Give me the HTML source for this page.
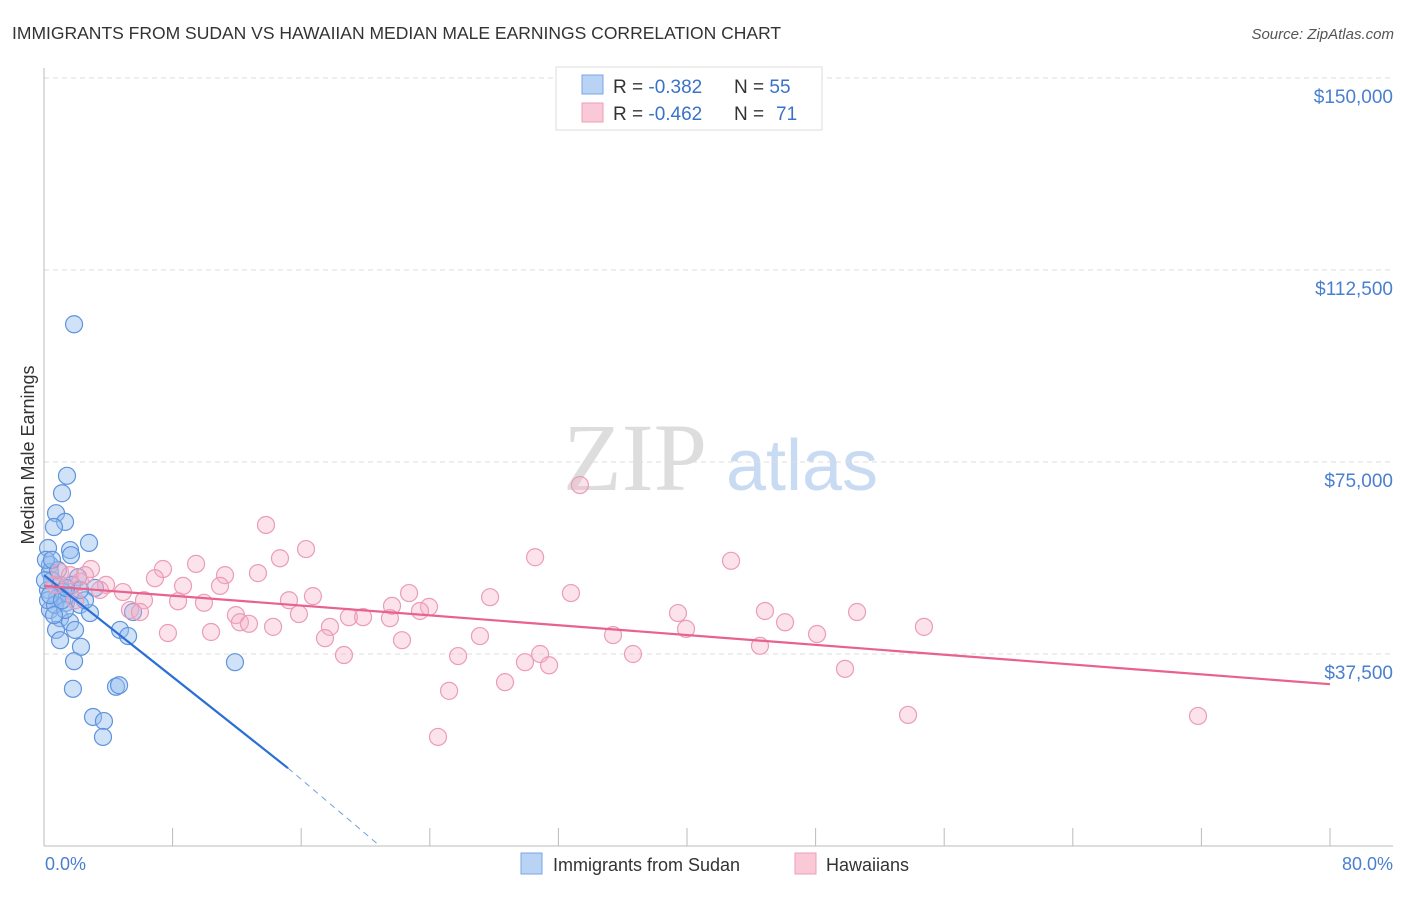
<!DOCTYPE html>
<html><head><meta charset="utf-8"><style>
body{margin:0;background:#fff;font-family:"Liberation Sans",sans-serif}
svg text{font-family:"Liberation Sans",sans-serif}
</style></head><body>
<svg width="1406" height="892" id="chart" xmlns="http://www.w3.org/2000/svg">
<text x="12" y="39" font-size="17.5" fill="#333">IMMIGRANTS FROM SUDAN VS HAWAIIAN MEDIAN MALE EARNINGS CORRELATION CHART</text>
<text x="1394" y="39" font-size="15" fill="#555" text-anchor="end" font-style="italic">Source: ZipAtlas.com</text>
<g>
<text x="635" y="490" font-size="96" fill="#ddd" text-anchor="middle" font-family="Liberation Serif,serif" style="font-family:'Liberation Serif',serif">ZIP</text>
<text x="802" y="490" font-size="72" fill="#c9dbf2" text-anchor="middle">atlas</text>
</g>
<g id="grid"></g><g id="axes"></g><g id="pts"></g><g id="trend"></g>
<text transform="translate(34,455) rotate(-90)" font-size="18" fill="#333" text-anchor="middle">Median Male Earnings</text>
<text x="45" y="870" font-size="18" fill="#4a7fd0">0.0%</text>
<text x="1393" y="870" font-size="18" fill="#4a7fd0" text-anchor="end">80.0%</text>
<g>
<rect x="556" y="67" width="266" height="63" fill="#fff" stroke="#ddd"/>
<rect x="582" y="75" width="21" height="19" fill="#b9d3f5" stroke="#7aa6e3"/>
<rect x="582" y="103" width="21" height="19" fill="#f9c9d7" stroke="#ef9fb9"/>
<text x="613" y="93" font-size="19" fill="#333">R = <tspan fill="#3a72c9">-0.382</tspan><tspan x="734">N = </tspan><tspan fill="#3a72c9">55</tspan></text>
<text x="613" y="120" font-size="19" fill="#333">R = <tspan fill="#3a72c9">-0.462</tspan><tspan x="734">N = </tspan><tspan x="776" fill="#3a72c9">71</tspan></text>
</g>
<g>
<rect x="521" y="853" width="21" height="21" fill="#b9d3f5" stroke="#7aa6e3"/>
<text x="553" y="871" font-size="18" fill="#333">Immigrants from Sudan</text>
<rect x="795" y="853" width="21" height="21" fill="#f9c9d7" stroke="#ef9fb9"/>
<text x="826" y="871" font-size="18" fill="#333">Hawaiians</text>
</g>
</svg>
<script>
const yTicks=[37500,75000,112500,150000];
const yTickLabels=["$37,500","$75,000","$112,500","$150,000"];
const xTicks=[0,8,16,24,32,40,48,56,64,72,80];
const sudanX=[1.87,1.43,1.12,0.75,1.31,0.62,2.8,0.25,1.62,1.68,0.37,0.37,2.12,0.5,1.0,0.25,3.17,1.18,1.62,0.81,1.37,2.24,0.37,2.86,1.0,1.62,0.75,1.93,4.73,1.0,5.23,2.3,5.54,1.87,11.88,1.8,4.48,4.67,3.05,3.73,3.67,0.25,0.68,1.31,2.55,0.06,0.37,1.12,1.74,0.87,2.24,0.12,0.5,1.37,0.62];
const sudanY=[101900,72300,68900,65000,63300,62300,59200,58200,57800,56800,54900,53500,52500,51900,51000,50000,50400,49600,49000,48400,47500,47100,46100,45500,44500,43700,42200,42200,42200,40200,41000,38900,45700,36100,35900,30700,31100,31400,25200,24400,21300,48000,47100,46100,48000,51900,49000,48000,51000,53900,50000,55900,55900,50400,45100];
const hawX=[33.34,13.81,16.3,9.46,30.55,42.74,14.68,7.4,11.26,13.31,6.9,2.92,3.86,4.91,8.65,10.95,22.71,32.78,27.75,16.73,15.24,8.34,9.95,6.22,21.65,23.95,23.39,44.85,50.58,39.44,15.86,11.94,18.97,19.85,21.52,12.19,12.75,14.25,17.79,46.1,54.74,10.39,7.71,27.12,35.4,39.94,22.27,17.48,48.09,44.54,18.66,25.76,36.64,30.86,29.92,31.42,49.83,28.68,25.2,53.75,71.79,24.51,1.0,1.62,2.24,0.68,3.48,1.93,5.35,5.97,2.55];
const hawY=[70500,62700,58000,55100,56400,55700,56200,54100,52900,53300,52300,54100,51000,49600,50800,50800,49400,49400,48600,48800,48000,47800,47500,48000,46900,46700,45900,45900,45700,45500,45300,45100,44700,44700,44500,43700,43400,42800,42800,43700,42800,41800,41600,41000,41200,42400,40200,40600,41400,39100,37300,37100,37500,37500,35900,35300,34600,32000,30300,25600,25400,21300,53500,52900,51600,51000,50000,48000,46100,45700,52900];
const sudanTrend=[[0,52900],[15.18,15200],[20.9,0]];
const hawTrend=[[0,50800],[80,31600]];
const NS="http://www.w3.org/2000/svg";
const X=p=>44+p*1286/80;
const Y=v=>846-v*192/37500;
function mk(tag,attrs,parent){const e=document.createElementNS(NS,tag);for(const k in attrs)e.setAttribute(k,attrs[k]);document.getElementById(parent).appendChild(e);return e;}
yTicks.forEach((t,i)=>{
 const g=mk('line',{x1:44,x2:1393,y1:Y(t),y2:Y(t),stroke:'#ddd','stroke-dasharray':'5,4'},'grid');
 
 
 const l=mk('text',{x:1393,y:Y(t)+25,'font-size':19,fill:'#4a7fd0','text-anchor':'end'},'grid');
 l.textContent=yTickLabels[i];
 
 
});
const ax=mk('line',{x1:44,x2:44,y1:68,y2:846,stroke:'#bbb'},'axes');


const bx=mk('line',{x1:44,x2:1393,y1:846,y2:846,stroke:'#bbb'},'axes');


xTicks.forEach(t=>{
 const k=mk('line',{x1:X(t),x2:X(t),y1:828,y2:846,stroke:'#bbb'},'axes');
 
 
});
sudanX.forEach((x,i)=>{
 const c=mk('circle',{cx:X(x),cy:Y(sudanY[i]),r:8.5,fill:'rgba(150,190,240,0.45)',stroke:'#5f93dc','stroke-width':1.2},'pts');
 
 
});
hawX.forEach((x,i)=>{
 const c=mk('circle',{cx:X(x),cy:Y(hawY[i]),r:8.5,fill:'rgba(245,175,198,0.35)',stroke:'#eb9cb6','stroke-width':1.2},'pts');
 
 
});
const s1=mk('line',{x1:X(sudanTrend[0][0]),y1:Y(sudanTrend[0][1]),x2:X(sudanTrend[1][0]),y2:Y(sudanTrend[1][1]),stroke:'#2a6fd6','stroke-width':2.2},'trend');


const s2=mk('line',{x1:X(sudanTrend[1][0]),y1:Y(sudanTrend[1][1]),x2:X(sudanTrend[2][0]),y2:Y(sudanTrend[2][1]),stroke:'#6f9ee0','stroke-width':1,'stroke-dasharray':'6,5'},'trend');


const h=mk('line',{x1:X(hawTrend[0][0]),y1:Y(hawTrend[0][1]),x2:X(hawTrend[1][0]),y2:Y(hawTrend[1][1]),stroke:'#e8628e','stroke-width':2.2},'trend');


</script>
</body></html>
